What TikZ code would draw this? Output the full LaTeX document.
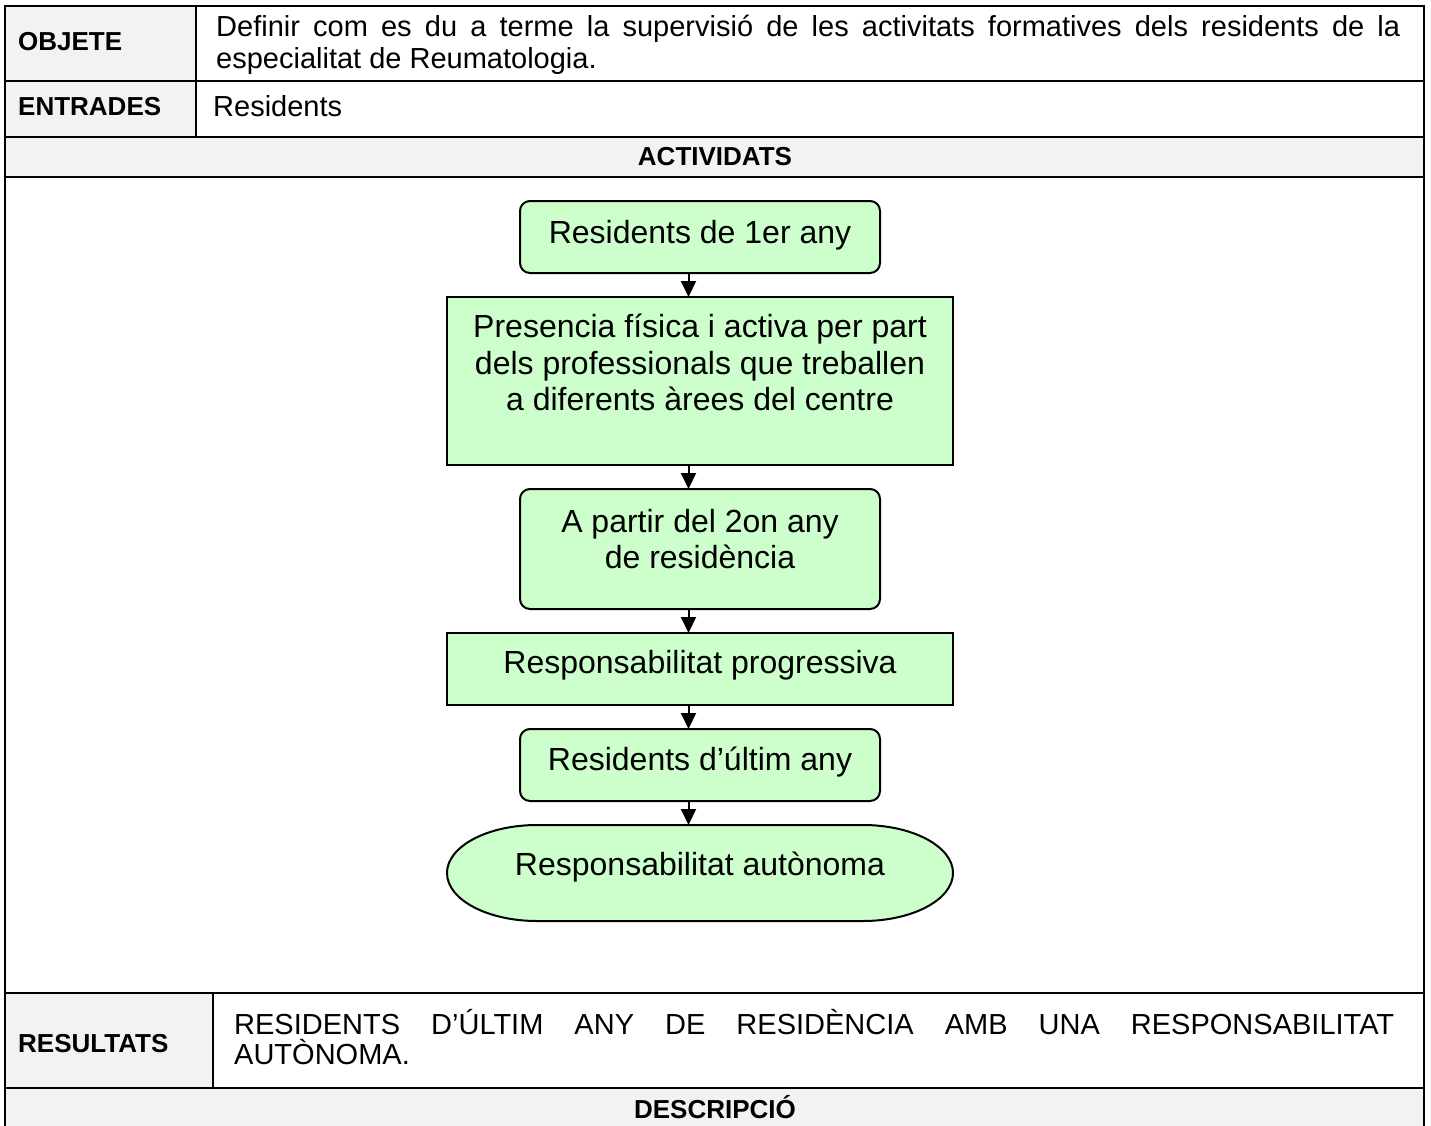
\documentclass[tikz,border=0pt]{standalone}
\usepackage{fontspec}
\setmainfont{Liberation Sans}
\usetikzlibrary{arrows.meta,backgrounds}
\definecolor{hdrgray}{HTML}{F2F2F2}
\definecolor{boxgreen}{HTML}{CCFFCC}
\newcommand{\fbtext}[4]{\parbox[c][#1][t]{#2}{\fontsize{32}{36.5}\selectfont\centering\vspace*{#3}#4\par}}
\newcommand{\jtext}[3]{\parbox[t]{#1}{\fontsize{29}{#2}\selectfont\tolerance=10000\hyphenpenalty=10000\exhyphenpenalty=10000 #3}}
\tikzset{
  tline/.style={line width=2.8pt},
  lbl/.style={anchor=base west,inner sep=0pt,font=\fontsize{26}{30}\selectfont\bfseries},
  hdr/.style={anchor=base,inner sep=0pt,font=\fontsize{26}{30}\selectfont\bfseries},
  body/.style={anchor=base west,inner sep=0pt},
  flowbox/.style={draw,line width=2pt,fill=boxgreen,inner sep=0pt,outer sep=0pt},
  roundbox/.style={flowbox,rounded corners=10pt},
  arr/.style={line width=2pt,-{Triangle[length=16pt,width=15pt]}}
}
\begin{document}
\begin{tikzpicture}[x=1pt,y=-1pt]
\useasboundingbox (0,0) rectangle (1431,1126);
% gray fills
\fill[hdrgray] (5,6) rectangle (196,137);
\fill[hdrgray] (5,137) rectangle (1424,177);
\fill[hdrgray] (5,993) rectangle (213,1088);
\fill[hdrgray] (5,1088) rectangle (1424,1126);
% table lines
\draw[tline] (5,1126) -- (5,6) -- (1424,6) -- (1424,1126);
\draw[tline] (5,81) -- (1424,81);
\draw[tline] (5,137) -- (1424,137);
\draw[tline] (5,177) -- (1424,177);
\draw[tline] (5,993) -- (1424,993);
\draw[tline] (5,1088) -- (1424,1088);
\draw[tline] (196,6) -- (196,137);
\draw[tline] (213,993) -- (213,1088);
% table texts
\node[lbl] (lobj) at (18,51) {OBJETE};
\node[lbl] (lent) at (18,116) {ENTRADES};
\node[lbl] (lres) at (18,1052) {RESULTATS};
\node[hdr] (hact) at (715,166) {ACTIVIDATS};
\node[hdr] (hdes) at (715,1118) {DESCRIPCIÓ};
\node[body] (tobj) at (216,37) {\jtext{1184pt}{32}{Definir com es du a terme la supervisió de les activitats formatives dels residents de la especialitat de Reumatologia.}};
\node[body] (tent) at (213,117) {\fontsize{29}{32}\selectfont Residents};
\node[body] (tres) at (234,1034) {\jtext{1160pt}{30.5}{RESIDENTS D’ÚLTIM ANY DE RESIDÈNCIA AMB UNA RESPONSABILITAT AUTÒNOMA.}};
% flowchart
\node[roundbox] (b1) at (700,237) {\fbtext{72pt}{360pt}{19pt}{Residents de 1er any}};
\node[flowbox] (b2) at (700,381) {\fbtext{168pt}{506pt}{17pt}{Presencia física i activa per part\\dels professionals que treballen\\a diferents àrees del centre}};
\node[roundbox] (b3) at (700,549) {\fbtext{120pt}{360pt}{20pt}{A partir del 2on any\\de residència}};
\node[flowbox] (b4) at (700,669) {\fbtext{72pt}{506pt}{17pt}{Responsabilitat progressiva}};
\node[roundbox] (b5) at (700,765) {\fbtext{72pt}{360pt}{18pt}{Residents d’últim any}};
\node[inner sep=0pt,outer sep=0pt] (b6) at (700,873) {\fbtext{96pt}{506pt}{27pt}{Responsabilitat autònoma}};
\begin{scope}[on background layer]
\draw[line width=2pt,fill=boxgreen] ([xshift=90pt]b6.north west) -- ([xshift=-90pt]b6.north east)
  arc[start angle=90,end angle=-90,x radius=90pt,y radius=48pt]
  -- ([xshift=90pt]b6.south west)
  arc[start angle=270,end angle=90,x radius=90pt,y radius=48pt] -- cycle;
\end{scope}
\draw[arr] ([xshift=-11.5pt]b1.south) -- ([xshift=-11.5pt]b2.north);
\draw[arr] ([xshift=-11.5pt]b2.south) -- ([xshift=-11.5pt]b3.north);
\draw[arr] ([xshift=-11.5pt]b3.south) -- ([xshift=-11.5pt]b4.north);
\draw[arr] ([xshift=-11.5pt]b4.south) -- ([xshift=-11.5pt]b5.north);
\draw[arr] ([xshift=-11.5pt]b5.south) -- ([xshift=-11.5pt]b6.north);
\end{tikzpicture}
\end{document}
